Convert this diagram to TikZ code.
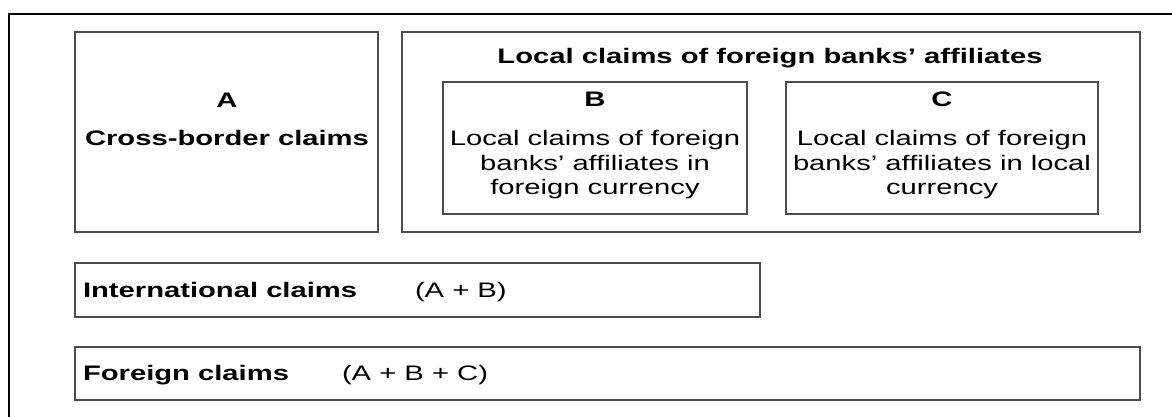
\documentclass[tikz,border=0pt]{standalone}
\usepackage{fontspec}
\setmainfont[FakeStretch=1.39]{Liberation Sans}
\begin{document}
\begin{tikzpicture}[x=1pt,y=-1pt,
  box/.style={draw=black!70, line width=1.7pt, inner sep=0pt, outer sep=0pt, anchor=north west},
  txt/.style={inner sep=0pt, outer sep=0pt, font=\fontsize{21}{24}\selectfont},
  btxt/.style={txt, font=\fontsize{21}{24}\selectfont\bfseries}]
\useasboundingbox (0,0) rectangle (1172,416);
% outer frame (right and bottom edges lie outside the picture)
\node[draw=black, line width=2pt, inner sep=0pt, anchor=north west,
      minimum width=1200pt, minimum height=440pt] (frame) at (8,13) {};
% boxes
\node[box, minimum width=303pt, minimum height=200pt] (boxA) at (75,32) {};
\node[box, minimum width=738pt, minimum height=200pt] (boxL) at (402,32) {};
\node[box, minimum width=304pt, minimum height=132pt] (boxB) at (443,82) {};
\node[box, minimum width=312pt, minimum height=132pt] (boxC) at (786,82) {};
\node[box, minimum width=685pt, minimum height=54pt] (boxI) at (75,263) {};
\node[box, minimum width=1065pt, minimum height=53pt] (boxF) at (75,347) {};
% texts
\node[btxt, anchor=base] (tA) at (227,107) {A};
\node[btxt, anchor=base] (tA2) at (227,145) {Cross-border claims};
\node[btxt, anchor=base] (tL) at (770,63) {Local claims of foreign banks’ affiliates};
\node[btxt, anchor=base] (tB) at (595,106) {B};
\node[txt, anchor=base] (tB1) at (595,145) {Local claims of foreign};
\node[txt, anchor=base] (tB2) at (595,170) {banks’ affiliates in};
\node[txt, anchor=base] (tB3) at (595,194) {foreign currency};
\node[btxt, anchor=base] (tC) at (942,106) {C};
\node[txt, anchor=base] (tC1) at (942,145) {Local claims of foreign};
\node[txt, anchor=base] (tC2) at (942,170) {banks’ affiliates in local};
\node[txt, anchor=base] (tC3) at (942,194) {currency};
\node[btxt, anchor=base west] (tI) at (83,297) {International claims};
\node[txt, anchor=base west] (tI2) at (415,297) {(A + B)};
\node[btxt, anchor=base west] (tF) at (83,380) {Foreign claims};
\node[txt, anchor=base west] (tF2) at (342,380) {(A + B + C)};
\end{tikzpicture}
\end{document}
